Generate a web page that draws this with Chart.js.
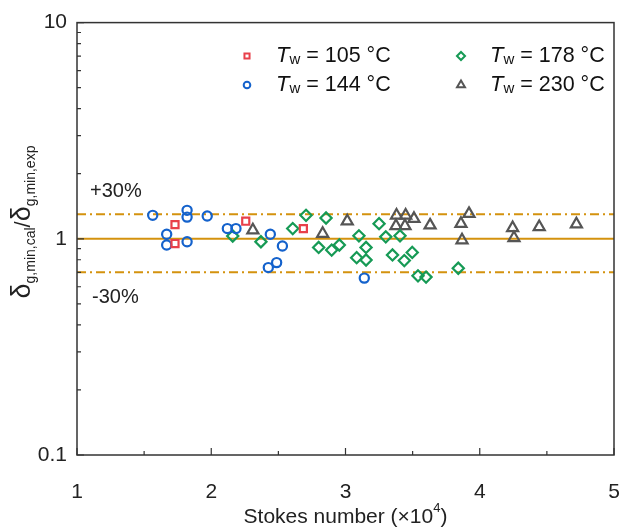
<!DOCTYPE html>
<html lang="en">
  <head>
    <meta charset="UTF-8" />
    <title>Stokes number</title>
    <script src="https://cdn.jsdelivr.net/npm/chart.js@4"></script>
    <style>
      html, body { margin: 0; padding: 0; background: #fff; }
      #wrap { width: 632px; height: 531px; }
    </style>
  </head>
  <body>
    <div id="wrap"><canvas id="myChart"></canvas></div>
  </body>
  <script>
    // Stokes number (x 10^4) vs calculated / measured film thickness ratio
    const st105 = [1.73, 1.73, 2.257, 2.686];
    const r105 = [1.163, 0.951, 1.206, 1.115];

    const st144 = [1.564, 1.82, 1.82, 1.97, 1.668, 1.668, 1.82, 2.12, 2.184, 2.44, 2.425, 2.487, 2.53, 3.14];
    const r144 = [1.284, 1.354, 1.26, 1.275, 1.05, 0.936, 0.969, 1.115, 1.115, 1.05, 0.736, 0.776, 0.926, 0.658];

    const st178 = [2.16, 2.37, 2.607, 2.706, 2.855, 2.8, 2.897, 2.954, 3.1, 3.153, 3.083, 3.153, 3.25, 3.3, 3.406, 3.35, 3.438, 3.497, 3.54, 3.6, 3.84];
    const r178 = [1.03, 0.969, 1.115, 1.284, 1.248, 0.912, 0.887, 0.936, 1.032, 0.912, 0.818, 0.798, 1.175, 1.021, 1.032, 0.842, 0.793, 0.865, 0.674, 0.665, 0.731];

    const st230 = [2.31, 2.83, 3.013, 3.38, 3.448, 3.51, 3.376, 3.443, 3.63, 3.92, 3.86, 3.868, 4.245, 4.255, 4.443, 4.72];
    const r230 = [1.096, 1.057, 1.206, 1.284, 1.284, 1.239, 1.147, 1.147, 1.155, 1.306, 1.175, 0.986, 1.123, 1.01, 1.135, 1.168];

    const seriesTemps = ["105", "144", "178", "230"];
    const bandLevels = [1.3, 1, 0.7];
    const xTicks = [1, 2, 3, 4, 5];
    const xMinorTicks = [1.5, 2.5, 3.5, 4.5];
    const yTicks = [0.1, 1, 10];
    const yMinorTicks = [0.2, 0.3, 0.4, 0.5, 0.6, 0.7, 0.8, 0.9, 2, 3, 4, 5, 6, 7, 8, 9];

    const FONT = "'Liberation Sans', Arial, sans-serif";
    const AXIS = "#333333";
    const GOLD = "#d4920e";

    const pts = (xs, ys) => xs.map((x, i) => ({ x: x, y: ys[i] }));
    const hline = (v) => [{ x: 1, y: v }, { x: 5, y: v }];

    const markers = [
      { color: "#e8404a", style: "rect", radius: 5 },
      { color: "#1462cc", style: "circle", radius: 4.6 },
      { color: "#169a55", style: "rectRot", radius: 5.6 },
      { color: "#555555", style: "triangle", radius: 6.4 },
    ];
    const seriesData = [pts(st105, r105), pts(st144, r144), pts(st178, r178), pts(st230, r230)];

    const datasets = [];
    bandLevels.forEach((v) => {
      datasets.push({
        type: "line",
        data: hline(v),
        borderColor: GOLD,
        borderWidth: 2,
        borderDash: v === 1 ? [] : [9, 4, 2, 4],
        pointRadius: 0,
        fill: false,
        order: 10,
      });
    });
    seriesData.forEach((d, i) => {
      datasets.push({
        label: "Tw = " + seriesTemps[i] + " °C",
        data: d,
        pointStyle: markers[i].style,
        pointRadius: markers[i].radius,
        pointBorderWidth: 2.2,
        borderColor: markers[i].color,
        backgroundColor: "rgba(0,0,0,0)",
        order: 1,
      });
    });

    // inward tick marks, x tick labels, frame, legend and axis titles
    const decorations = {
      id: "decorations",
      afterDraw(chart) {
        const c = chart.ctx;
        const a = chart.chartArea;
        const xs = chart.scales.x;
        const ys = chart.scales.y;
        c.save();
        c.strokeStyle = AXIS;
        c.lineWidth = 1.5;
        c.strokeRect(a.left, a.top, a.right - a.left, a.bottom - a.top);

        c.lineWidth = 1.2;
        c.beginPath();
        xTicks.concat(xMinorTicks).forEach((v) => {
          const px = xs.getPixelForValue(v);
          const len = xTicks.includes(v) ? 7 : 4;
          c.moveTo(px, a.bottom);
          c.lineTo(px, a.bottom - len);
        });
        yTicks.concat(yMinorTicks).forEach((v) => {
          const py = ys.getPixelForValue(v);
          const len = yTicks.includes(v) ? 7 : 4;
          c.moveTo(a.left, py);
          c.lineTo(a.left + len, py);
        });
        c.stroke();

        c.fillStyle = "#222";
        c.textBaseline = "middle";

        // x tick labels
        c.font = "21px " + FONT;
        c.textAlign = "center";
        xTicks.forEach((v) => {
          c.fillText(String(v), xs.getPixelForValue(v), a.bottom + 37);
        });

        // band labels
        c.font = "20px " + FONT;
        c.textAlign = "left";
        c.fillText("+30%", 90, ys.getPixelForValue(1.3) - 23);
        c.fillText("-30%", 92, ys.getPixelForValue(0.7) + 25);

        // legend
        const cols = [247, 461];
        const rows = [56, 85];
        const order = [0, 2, 1, 3];
        order.forEach((si, k) => {
          const mx = cols[k % 2];
          const my = rows[Math.floor(k / 2)];
          c.strokeStyle = markers[si].color;
          c.fillStyle = "rgba(0,0,0,0)";
          c.lineWidth = 2;
          Chart.helpers.drawPoint(c, { pointStyle: markers[si].style, radius: markers[si].radius * 0.72, borderWidth: 2 }, mx, my);
          let tx = mx + 29;
          c.fillStyle = "#111";
          c.font = "italic 22px " + FONT;
          c.fillText("T", tx, my);
          tx += c.measureText("T").width;
          c.font = "15px " + FONT;
          c.fillText("w", tx, my + 4);
          tx += c.measureText("w").width;
          c.font = "21.5px " + FONT;
          c.fillText(" = " + seriesTemps[si] + " °C", tx, my);
        });

        // x title
        c.fillStyle = "#222";
        c.font = "21px " + FONT;
        const t1 = "Stokes number (×10";
        const w1 = c.measureText(t1).width;
        c.font = "13px " + FONT;
        const w2 = c.measureText("4").width;
        c.font = "21px " + FONT;
        const w3 = c.measureText(")").width;
        let x0 = (a.left + a.right) / 2 - (w1 + w2 + w3) / 2;
        const yT = 517;
        c.fillText(t1, x0, yT);
        c.font = "13px " + FONT;
        c.fillText("4", x0 + w1, yT - 9);
        c.font = "21px " + FONT;
        c.fillText(")", x0 + w1 + w2, yT);

        // y title, rotated
        const parts = [
          ["δ", "27px " + FONT, 0],
          ["g,min,cal", "14px " + FONT, 5],
          ["/", "22px " + FONT, 0],
          ["δ", "27px " + FONT, 0],
          ["g,min,exp", "14px " + FONT, 5],
        ];
        let total = 0;
        parts.forEach((p) => { c.font = p[1]; total += c.measureText(p[0]).width; });
        c.textBaseline = "alphabetic";
        c.translate(30, 222);
        c.rotate(-Math.PI / 2);
        let px = -total / 2;
        parts.forEach((p) => {
          c.font = p[1];
          c.fillText(p[0], px, p[2]);
          px += c.measureText(p[0]).width;
        });
        c.restore();
      },
    };

    const ctx = document.getElementById("myChart");
    const myChart = new Chart(ctx, {
      type: "scatter",
      data: { datasets: datasets },
      options: {
        responsive: true,
        maintainAspectRatio: false,
        animation: false,
        layout: { padding: { top: 19, right: 18, left: 0, bottom: 0 } },
        plugins: { legend: { display: false }, tooltip: { enabled: false } },
        scales: {
          x: {
            type: "linear",
            min: 1,
            max: 5,
            grid: { display: false, drawTicks: false },
            border: { display: false },
            afterFit: (s) => { s.height = 76; },
            afterBuildTicks: (s) => { s.ticks = xTicks.map((v) => ({ value: v })); },
            ticks: { display: false },
          },
          y: {
            type: "logarithmic",
            min: 0.1,
            max: 10,
            grid: { display: false, drawTicks: false },
            border: { display: false },
            afterFit: (s) => { s.width = 77; },
            afterBuildTicks: (s) => { s.ticks = yTicks.map((v) => ({ value: v })); },
            ticks: {
              padding: 10,
              color: "#222",
              font: { family: FONT, size: 21 },
              callback: (v) => String(v),
            },
          },
        },
      },
      plugins: [decorations],
    });
  </script>
</html>
